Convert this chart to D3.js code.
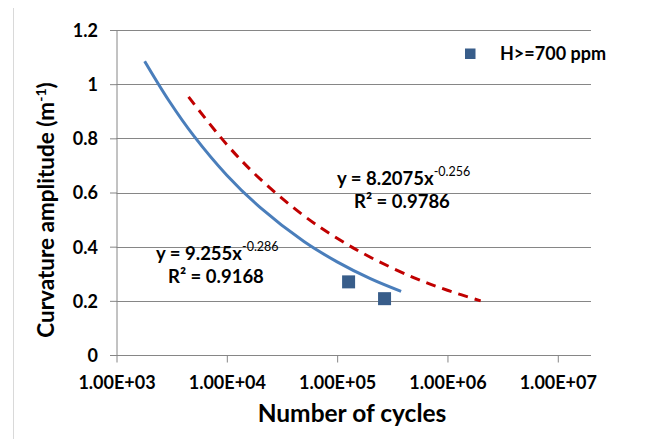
<!DOCTYPE html>
<meta charset="utf-8">
<script src="https://d3js.org/d3.v7.min.js"></script>
<style>
body { margin: 0; background: #fff; }
text { font-family: Lato, "Open Sans", sans-serif; font-weight: bold; fill: #000; }
.grid line { stroke: #868686; stroke-width: 1px; }
.axis path, .axis line { stroke: #868686; }
.tickLabel { font-size: 18px; }
.eq { font-size: 18.5px; }
</style>
<body></body>
<script>
// DATA
const xTicks = [1e3, 1e4, 1e5, 1e6, 1e7];
const xTickLabels = ["1.00E+03", "1.00E+04", "1.00E+05", "1.00E+06", "1.00E+07"];
const yTicks = [0, 0.2, 0.4, 0.6, 0.8, 1, 1.2];
const yTickLabels = ["0", "0.2", "0.4", "0.6", "0.8", "1", "1.2"];

// measured points, H>=700 ppm
const pointCycles = [1.27e5, 2.69e5];
const pointCurv = [0.27, 0.208];

// power trendline, solid blue
const blueCycles = [1800, 3000, 5000, 1e4, 2e4, 5e4, 1e5, 2e5, 3.8e5];
const blueCurv = [1.085, 0.938, 0.810, 0.664, 0.545, 0.419, 0.344, 0.282, 0.235];

// power trendline, dashed red
const redCycles = [4500, 1e4, 2e4, 5e4, 1e5, 2e5, 5e5, 1e6, 2e6];
const redCurv = [0.953, 0.777, 0.650, 0.514, 0.431, 0.361, 0.285, 0.239, 0.200];

const legendLabel = "H>=700 ppm";

// LAYOUT
const width = 655, height = 439;
const margin = {top: 30, left: 116.5, right: 64, bottom: 84};
const innerW = width - margin.left - margin.right;
const innerH = height - margin.top - margin.bottom;

const svg = d3.select("body").append("svg")
  .attr("width", width).attr("height", height);

svg.append("rect").attr("width", width).attr("height", height).attr("fill", "#fff");

// chart area left border
svg.append("line")
  .attr("x1", 13.5).attr("x2", 13.5).attr("y1", 8).attr("y2", height)
  .attr("stroke", "#d9d9d9");

const x = d3.scaleLog().domain([1e3, 2e7]).range([0, innerW]);
const y = d3.scaleLinear().domain([0, 1.2]).range([innerH, 0]);

const g = svg.append("g").attr("transform", `translate(${margin.left},${margin.top})`);

// GRID
g.append("g").attr("class", "grid")
  .selectAll("line").data(yTicks.filter(d => d > 0)).join("line")
  .attr("x1", 0).attr("x2", innerW)
  .attr("y1", d => Math.round(y(d)) + 0.5).attr("y2", d => Math.round(y(d)) + 0.5);

// AXES
const xAxis = g.append("g").attr("class", "axis")
  .attr("transform", `translate(0,${Math.round(innerH) + 0.5})`)
  .call(d3.axisBottom(x).tickValues(xTicks).tickSize(7).tickFormat((d, i) => xTickLabels[i]));
xAxis.select(".domain").attr("d", `M0,0H${innerW}`);
xAxis.selectAll("text").attr("class", "tickLabel").attr("dy", null).attr("y", 33);

const yAxis = g.append("g").attr("class", "axis")
  .attr("transform", "translate(0.5,0)")
  .call(d3.axisLeft(y).tickValues(yTicks).tickSize(7).tickFormat((d, i) => yTickLabels[i]));
yAxis.select(".domain").attr("d", `M0,0V${innerH}`);
yAxis.selectAll("text").attr("class", "tickLabel").attr("x", -19).attr("dy", "0.36em");

// AXIS TITLES
svg.append("text")
  .attr("x", 352).attr("y", 422)
  .attr("text-anchor", "middle")
  .style("font-size", "24.5px")
  .text("Number of cycles");

const yTitle = svg.append("text")
  .attr("transform", "translate(54,210) rotate(-90)")
  .attr("text-anchor", "middle")
  .style("font-size", "22.5px");
yTitle.append("tspan").text("Curvature amplitude (m");
yTitle.append("tspan").attr("dy", -8).style("font-size", "14px").text("-1");
yTitle.append("tspan").attr("dy", 8).text(")");

// TRENDLINES
const line = d3.line().curve(d3.curveCatmullRom)
  .x(d => x(d[0])).y(d => y(d[1]));

g.append("path")
  .datum(blueCycles.map((c, i) => [c, blueCurv[i]]))
  .attr("d", line)
  .attr("fill", "none").attr("stroke", "#4a7ebb").attr("stroke-width", 3);

g.append("path")
  .datum(redCycles.map((c, i) => [c, redCurv[i]]))
  .attr("d", line)
  .attr("fill", "none").attr("stroke", "#c00000").attr("stroke-width", 3)
  .attr("stroke-dasharray", "10,7");

// POINTS
const ms = 13;
g.selectAll(".pt").data(pointCycles).join("rect")
  .attr("class", "pt")
  .attr("x", d => x(d) - ms / 2)
  .attr("y", (d, i) => y(pointCurv[i]) - ms / 2)
  .attr("width", ms).attr("height", ms)
  .attr("fill", "#385d8a");

// EQUATIONS
function equation(xp, yp, coef, expo, r2, r2dx) {
  const t = svg.append("text").attr("class", "eq").attr("x", xp).attr("y", yp);
  t.append("tspan").text("y = " + coef + "x");
  t.append("tspan").attr("dy", -9).style("font-size", "12.5px").style("font-weight", "normal").text(expo);
  svg.append("text").attr("class", "eq").attr("x", xp + r2dx).attr("y", yp + 23).text("R² = " + r2);
}
equation(156, 260, "9.255", "-0.286", "0.9168", 12);
equation(337, 185, "8.2075", "-0.256", "0.9786", 17);

// LEGEND
svg.append("rect").attr("x", 465).attr("y", 48.5).attr("width", 10.5).attr("height", 10.5).attr("fill", "#385d8a");
svg.append("text").attr("x", 500).attr("y", 60).style("font-size", "18px").text(legendLabel);
</script>
